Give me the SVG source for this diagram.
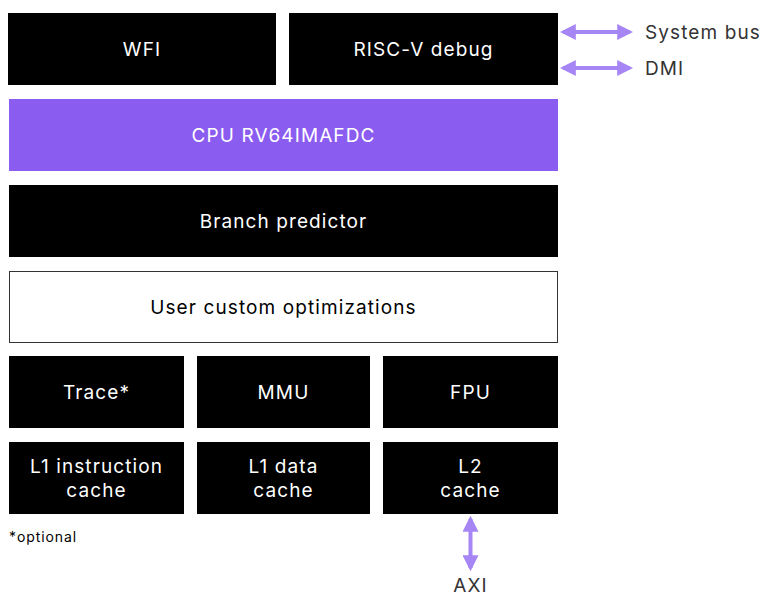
<svg xmlns="http://www.w3.org/2000/svg" width="764" height="596" viewBox="0 0 764 596">
<style>
.b{fill:#000}
.t{font-family:"Inter","Liberation Sans",sans-serif;font-size:19px;letter-spacing:1.1px;fill:#fff;text-anchor:middle}
.d{fill:#333;text-anchor:start}
.c{stroke:#a685f5;stroke-width:4;fill:none}
</style>
<defs>
<marker id="ah" viewBox="0 0 10 10" refX="8" refY="5" markerWidth="4" markerHeight="4" orient="auto-start-reverse" markerUnits="strokeWidth">
<path d="M0,0L10,5L0,10Z" fill="#a685f5"/>
</marker>
</defs>
<rect width="764" height="596" fill="#fff"/>
<g id="wfi"><rect class="b" x="8" y="13" width="268" height="72"/><text class="t" x="142" y="56">WFI</text></g>
<g id="debug"><rect class="b" x="289" y="13" width="269" height="72"/><text class="t" x="423.5" y="56">RISC-V debug</text></g>
<g id="cpu"><rect x="9" y="99" width="549" height="72" fill="#8b5cf0"/><text class="t" x="283.5" y="142">CPU RV64IMAFDC</text></g>
<g id="branch"><rect class="b" x="9" y="185" width="549" height="72"/><text class="t" x="283.5" y="228">Branch predictor</text></g>
<g id="user"><rect x="9.5" y="271.5" width="548" height="71" fill="#fff" stroke="#333" stroke-width="1"/><text class="t" x="283.5" y="314" style="fill:#000">User custom optimizations</text></g>
<g id="trace"><rect class="b" x="9" y="356" width="175" height="72"/><text class="t" x="96.5" y="399">Trace*</text></g>
<g id="mmu"><rect class="b" x="197" y="356" width="173" height="72"/><text class="t" x="283.5" y="399">MMU</text></g>
<g id="fpu"><rect class="b" x="383" y="356" width="175" height="72"/><text class="t" x="470.5" y="399">FPU</text></g>
<g id="l1i"><rect class="b" x="9" y="442" width="175" height="72"/><text class="t" x="96.5" y="473">L1 instruction</text><text class="t" x="96.5" y="497">cache</text></g>
<g id="l1d"><rect class="b" x="197" y="442" width="173" height="72"/><text class="t" x="283.5" y="473">L1 data</text><text class="t" x="283.5" y="497">cache</text></g>
<g id="l2"><rect class="b" x="383" y="442" width="175" height="72"/><text class="t" x="470.5" y="473">L2</text><text class="t" x="470.5" y="497">cache</text></g>
<text x="9" y="542" font-family="Inter,'Liberation Sans',sans-serif" font-size="14" letter-spacing="0.9" fill="#000">*optional</text>
<g id="connectors">
<line class="c" x1="563" y1="32" x2="630" y2="32" marker-start="url(#ah)" marker-end="url(#ah)"/>
<line class="c" x1="563" y1="68" x2="630" y2="68" marker-start="url(#ah)" marker-end="url(#ah)"/>
<line class="c" x1="470.5" y1="519" x2="470.5" y2="568" marker-start="url(#ah)" marker-end="url(#ah)"/>
</g>
<text class="t d" x="645" y="39">System bus</text>
<text class="t d" x="645" y="75">DMI</text>
<text class="t" x="470.5" y="592" style="fill:#333">AXI</text>
</svg>
